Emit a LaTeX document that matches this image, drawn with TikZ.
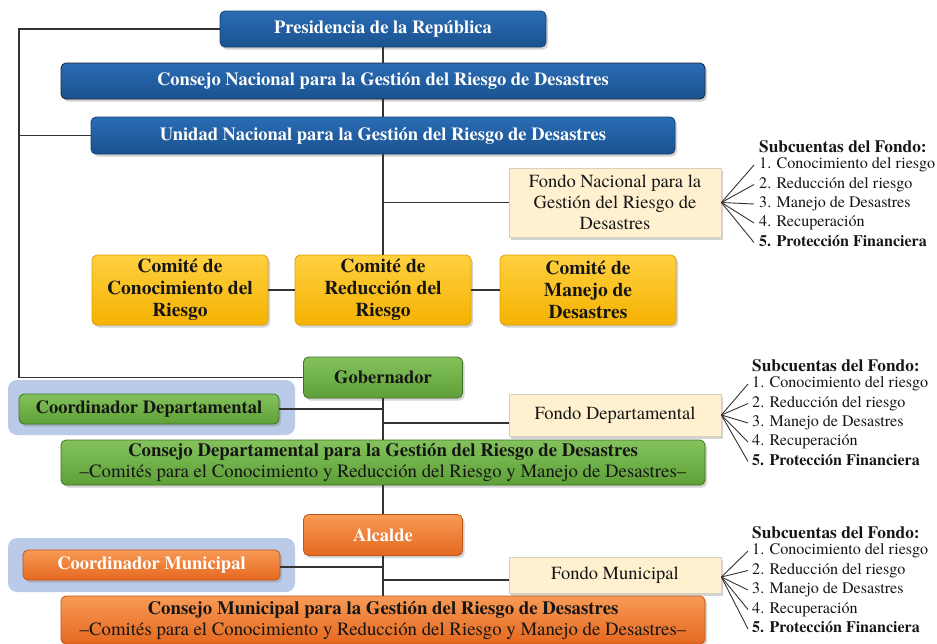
\documentclass[tikz,border=0pt]{standalone}
\usepackage{fontspec}
\setmainfont{texgyretermes}[Extension=.otf, UprightFont=*-regular, BoldFont=*-bold, ItalicFont=*-italic, BoldItalicFont=*-bolditalic]
\usetikzlibrary{shadows}
\definecolor{bluetop}{HTML}{2A6CB5}
\definecolor{bluebot}{HTML}{1A528F}
\definecolor{blueline}{HTML}{174070}
\definecolor{darkline}{HTML}{1A2535}
\definecolor{greentop}{HTML}{84C35C}
\definecolor{greenbot}{HTML}{5E9F37}
\definecolor{greenline}{HTML}{3F7324}
\definecolor{orangetop}{HTML}{F79A55}
\definecolor{orangebot}{HTML}{E5681F}
\definecolor{orangeline}{HTML}{C0561A}
\definecolor{yellowtop}{HTML}{FFD040}
\definecolor{yellowbot}{HTML}{F5B200}
\definecolor{yellowline}{HTML}{D9A300}
\definecolor{beige}{HTML}{FFF1CF}
\definecolor{beigeline}{HTML}{D8D0BC}
\definecolor{hlblue}{HTML}{BACBE9}
\definecolor{linec}{HTML}{333333}
\definecolor{txtdark}{HTML}{151515}
\begin{document}
\begin{tikzpicture}[x=1pt,y=-1pt,
  box/.style={rounded corners=5pt, inner sep=0pt, align=center, line width=0.8pt,
    drop shadow={opacity=0.35, shadow xshift=2pt, shadow yshift=-2.5pt}},
  bluebox/.style={box, top color=bluetop, bottom color=bluebot, draw=blueline, text=white,
    font=\bfseries\fontsize{18.5}{21}\selectfont},
  yelbox/.style={box, top color=yellowtop, bottom color=yellowbot, draw=yellowline, text=txtdark,
    minimum width=176pt, minimum height=70pt, font=\bfseries\fontsize{19.5}{22}\selectfont},
  greenbox/.style={box, top color=greentop, bottom color=greenbot, draw=greenline, text=txtdark,
    font=\bfseries\fontsize{18.5}{21}\selectfont},
  orangebox/.style={box, top color=orangetop, bottom color=orangebot, draw=orangeline, text=white,
    font=\bfseries\fontsize{18.5}{21}\selectfont},
  fondobox/.style={box, rounded corners=0pt, fill=beige, draw=beigeline, text=txtdark,
    minimum width=212pt, font=\fontsize{18.5}{21}\selectfont},
  hlbox/.style={rounded corners=9pt, fill=hlblue, inner sep=0pt, minimum width=287pt, minimum height=55pt},
  subhead/.style={anchor=west, inner sep=0pt, font=\bfseries\fontsize{17.3}{19}\selectfont, text=txtdark},
  subitem/.style={anchor=west, inner sep=0pt, text height=11pt, text depth=3.5pt,
    font=\fontsize{16.1}{19}\selectfont, text=txtdark},
  lastitem/.style={subitem, font=\bfseries\fontsize{16}{19}\selectfont},
  conn/.style={draw=linec, line width=1.1pt},
  fan/.style={draw=linec, line width=0.9pt}
]
\useasboundingbox (0,0) rectangle (937,643);

% ---------------- national level
\node[bluebox, minimum width=326pt, minimum height=36pt] (pres) at (383,29) {Presidencia de la República};
\node[bluebox, draw=darkline, minimum width=644pt, minimum height=36pt] (cnac) at (383,81) {Consejo Nacional para la Gestión del Riesgo de Desastres};
\node[bluebox, minimum width=584pt, minimum height=37pt] (unac) at (383,135.5) {Unidad Nacional para la Gestión del Riesgo de Desastres};

\node[fondobox, minimum height=69pt] (fnac) at (615,202.5) {Fondo Nacional para la\\Gestión del Riesgo de\\Desastres};

\node[yelbox] (ccon) at (180,290) {Comité de\\Conocimiento del\\Riesgo};
\node[yelbox] (cred) at (383,290) {Comité de\\Reducción del\\Riesgo};
\node[yelbox] (cman) at (588,290) {Comité de\\Manejo de\\Desastres};

% sub-accounts 1
\node[subhead] (h1) at (759,147) {Subcuentas del Fondo:};
\node[subitem] (a1) at (759,165) {1. Conocimiento del riesgo};
\node[subitem] (a2) at (759,184.5) {2. Reducción del riesgo};
\node[subitem] (a3) at (759,204) {3. Manejo de Desastres};
\node[subitem] (a4) at (759,223) {4. Recuperación};
\node[lastitem] (a5) at (759,242.5) {5. Protección Financiera};

% ---------------- departmental level
\node[hlbox] (hld) at (151.5,407.5) {};
\node[greenbox, minimum width=159pt, minimum height=41pt] (gob) at (383,377.5) {Gobernador};
\node[greenbox, minimum width=260pt, minimum height=30pt] (cordd) at (149,409) {Coordinador Departamental};
\node[fondobox, minimum height=42pt] (fdep) at (615,415) {Fondo Departamental};
\node[greenbox, minimum width=644pt, minimum height=45pt] (cdep) at (383,462.5)
  {{\fontsize{18.8}{21}\selectfont Consejo Departamental para la Gestión del Riesgo de Desastres}\\
   {\mdseries\fontsize{18.8}{21}\selectfont –Comités para el Conocimiento y Reducción del Riesgo y Manejo de Desastres–}};

\node[subhead] (h2) at (752,366) {Subcuentas del Fondo:};
\node[subitem] (b1) at (752,384) {1. Conocimiento del riesgo};
\node[subitem] (b2) at (752,403.5) {2. Reducción del riesgo};
\node[subitem] (b3) at (752,423) {3. Manejo de Desastres};
\node[subitem] (b4) at (752,442) {4. Recuperación};
\node[lastitem] (b5) at (752,461.5) {5. Protección Financiera};

% ---------------- municipal level
\node[hlbox, minimum height=54pt] (hlm) at (151.5,565) {};
\node[orangebox, minimum width=159pt, minimum height=41pt] (alc) at (383,535) {Alcalde};
\node[orangebox, minimum width=257pt, minimum height=30pt] (cordm) at (151.5,565) {Coordinador Municipal};
\node[fondobox, minimum height=36pt] (fmun) at (615,575) {Fondo Municipal};
\node[orangebox, text=txtdark, minimum width=644pt, minimum height=48pt] (cmun) at (383,620)
  {{\fontsize{18.8}{21}\selectfont Consejo Municipal para la Gestión del Riesgo de Desastres}\\
   {\mdseries\fontsize{18.8}{21}\selectfont –Comités para el Conocimiento y Reducción del Riesgo y Manejo de Desastres–}};

\node[subhead] (h3) at (752,533) {Subcuentas del Fondo:};
\node[subitem] (c1) at (752,551) {1. Conocimiento del riesgo};
\node[subitem] (c2) at (752,570.5) {2. Reducción del riesgo};
\node[subitem] (c3) at (752,590) {3. Manejo de Desastres};
\node[subitem] (c4) at (752,609.5) {4. Recuperación};
\node[lastitem] (c5) at (752,629) {5. Protección Financiera};

% ---------------- connectors
\coordinate (L) at (19,0);
\draw[conn] (pres.west) -| (L |- gob.west) -- (gob.west);
\draw[conn] (unac.west) -- (L |- unac.west);
\draw[conn] (pres.south) -- (cnac.north);
\draw[conn] (cnac.south) -- (unac.north);
\draw[conn] (unac.south) -- (cred.north);
\draw[conn] (fnac.west) -- (fnac.west -| unac.south);
\draw[conn] (ccon.east) -- (cred.west);
\draw[conn] (cred.east) -- (cman.west);

\draw[conn] (gob.south) -- (cdep.north);
\draw[conn] (cordd.east) -- (cordd.east -| gob.south);
\draw[conn] ([yshift=-8pt]fdep.west) -- ([yshift=-8pt]fdep.west -| gob.south);
\draw[conn] (cdep.south) -- (alc.north);

\draw[conn] (alc.south) -- (cmun.north);
\draw[conn] ([yshift=-2pt]cordm.east) -- ([yshift=-2pt]cordm.east -| alc.south);
\draw[conn] ([yshift=-5pt]fmun.west) -- ([yshift=-5pt]fmun.west -| alc.south);

\foreach \t in {a1,a2,a3,a4,a5} \draw[fan] (fnac.east) -- ([xshift=-5pt]\t.west);
\foreach \t in {b1,b2,b3,b4,b5} \draw[fan] (fdep.east) -- ([xshift=-4pt]\t.west);
\foreach \t in {c1,c2,c3,c4,c5} \draw[fan] ([yshift=-2pt]fmun.east) -- ([xshift=-4pt]\t.west);
\end{tikzpicture}
\end{document}
